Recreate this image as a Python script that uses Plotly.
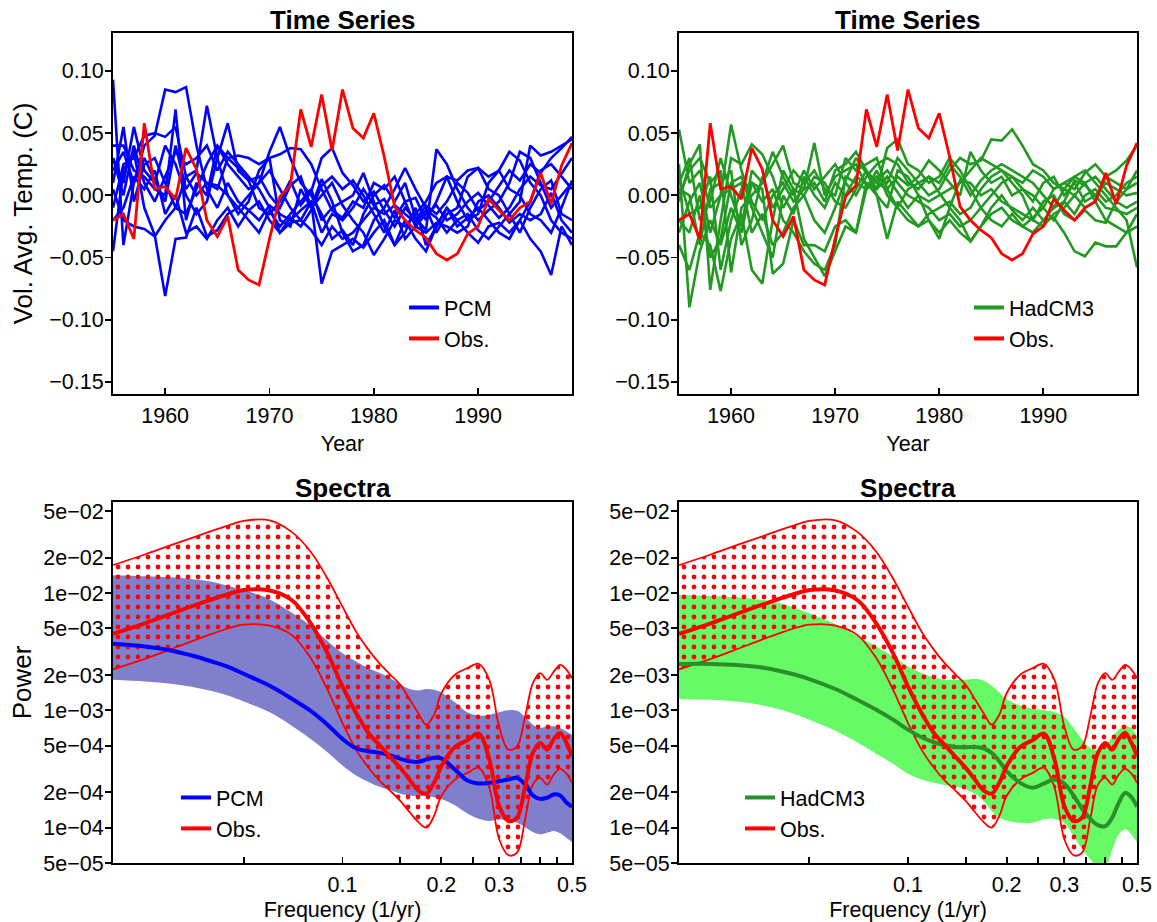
import math
import plotly.graph_objects as go

# ---------------- data ----------------
YEARS = list(range(1955, 2000))

OBS_TS = [-0.020, -0.015, -0.035, 0.058, 0.005, 0.007, -0.003, 0.038, 0.021, -0.020,
          -0.033, -0.017, -0.060, -0.068, -0.072, -0.035, -0.001, 0.008, 0.069, 0.039,
          0.081, 0.036, 0.085, 0.054, 0.046, 0.066, 0.031, -0.009, -0.020, -0.028,
          -0.034, -0.047, -0.052, -0.047, -0.031, -0.025, -0.003, -0.012, -0.020, -0.010,
          -0.005, 0.018, -0.007, 0.024, 0.042]

PCM_RUNS = [
    [0.093, -0.040, 0.010, 0.030, 0.012, -0.005, 0.040, 0.005, 0.018, 0.010,
     0.005, 0.030, 0.022, 0.012, -0.010, -0.015, -0.005, 0.012, -0.008, 0.003,
     0.030, 0.038, 0.018, 0.008, -0.005, 0.003, -0.012, -0.025, -0.010, -0.020,
     -0.008, -0.015, -0.005, 0.010, 0.002, -0.012, -0.005, 0.008, 0.020, 0.012,
     0.025, 0.018, 0.030, 0.038, 0.047],
    [0.020, 0.035, 0.010, 0.040, 0.048, 0.085, 0.083, 0.087, 0.040, 0.005,
     -0.010, 0.010, -0.005, -0.012, -0.020, -0.008, -0.015, -0.020, -0.012, -0.005,
     -0.030, -0.015, -0.020, -0.010, 0.005, -0.008, -0.003, -0.018, -0.005, -0.025,
     -0.015, -0.008, -0.020, -0.015, -0.005, 0.002, -0.008, -0.018, -0.010, 0.005,
     0.015, 0.008, 0.005, 0.018, 0.030],
    [-0.045, 0.020, 0.035, -0.010, -0.032, -0.081, -0.035, -0.034, -0.010, -0.033,
     -0.028, -0.015, -0.010, 0.000, 0.010, 0.020, 0.005, -0.010, -0.020, -0.005,
     -0.071, -0.045, -0.040, -0.035, -0.042, -0.030, -0.020, -0.040, -0.030, -0.010,
     -0.040, -0.025, -0.010, -0.020, -0.030, -0.038, -0.025, -0.022, -0.030, -0.020,
     -0.035, -0.045, -0.064, -0.025, -0.040],
    [0.040, 0.040, 0.020, 0.015, 0.005, 0.000, 0.069, -0.020, 0.010, 0.000,
     0.040, 0.025, 0.015, 0.005, 0.010, 0.035, 0.055, 0.030, 0.010, 0.000,
     -0.015, -0.035, -0.028, -0.040, -0.015, 0.000, 0.008, -0.005, 0.010, -0.018,
     -0.028, 0.037, 0.025, 0.005, -0.010, -0.020, -0.012, -0.005, 0.010, 0.035,
     0.030, 0.010, -0.010, 0.000, 0.010],
    [0.010, 0.055, -0.005, 0.025, 0.030, 0.010, -0.010, 0.015, 0.020, 0.072,
     0.030, 0.000, -0.015, -0.005, 0.020, 0.030, -0.020, -0.025, 0.005, -0.010,
     0.013, -0.005, -0.030, -0.045, -0.040, -0.020, -0.010, 0.005, 0.022, 0.005,
     -0.010, -0.030, -0.015, -0.010, 0.015, 0.022, 0.005, 0.000, -0.015, -0.030,
     -0.010, 0.005, 0.012, -0.015, -0.020],
    [0.030, 0.010, 0.055, 0.020, 0.010, 0.040, 0.025, 0.000, -0.015, -0.005,
     0.030, 0.058, 0.020, 0.012, 0.015, 0.000, -0.010, 0.008, 0.015, -0.010,
     0.000, 0.010, -0.008, -0.020, -0.030, -0.048, -0.035, -0.020, -0.025, -0.015,
     -0.005, 0.010, 0.015, -0.005, -0.020, -0.015, 0.010, 0.020, 0.035, 0.028,
     0.010, 0.000, -0.020, -0.030, -0.035],
    [-0.010, 0.025, 0.030, 0.048, 0.050, 0.047, 0.055, 0.015, 0.000, 0.010,
     0.008, 0.000, -0.010, -0.020, -0.030, -0.012, -0.025, -0.015, -0.005, 0.005,
     -0.020, -0.010, -0.005, 0.000, 0.018, -0.005, -0.025, -0.040, -0.020, -0.035,
     -0.045, -0.025, -0.010, -0.025, -0.018, -0.010, -0.020, -0.030, -0.035, -0.020,
     -0.005, 0.020, 0.025, 0.015, 0.005],
    [0.005, -0.020, -0.025, -0.027, -0.033, -0.020, -0.010, -0.015, 0.005, 0.025,
     0.040, 0.030, 0.032, 0.030, 0.025, 0.030, 0.033, 0.038, 0.037, 0.025,
     0.005, -0.012, -0.018, -0.005, -0.010, 0.010, 0.005, 0.015, -0.005, -0.002,
     -0.020, -0.005, 0.015, 0.012, 0.020, 0.022, 0.015, 0.020, 0.005, 0.000,
     -0.015, -0.020, -0.030, -0.010, 0.012],
    [0.030, 0.000, 0.040, 0.010, -0.005, 0.015, 0.035, 0.025, 0.030, 0.040,
     0.020, 0.035, 0.025, 0.015, 0.005, -0.010, -0.030, -0.022, -0.020, -0.028,
     -0.040, -0.025, -0.035, -0.030, -0.020, -0.010, -0.015, -0.008, -0.015, -0.022,
     -0.012, -0.018, -0.030, -0.020, -0.015, -0.028, -0.035, -0.025, -0.015, -0.005,
     0.040, 0.032, 0.035, 0.040, 0.045],
    [-0.020, -0.010, 0.015, 0.005, 0.020, -0.015, 0.000, -0.030, -0.025, -0.035,
     -0.020, -0.010, -0.025, -0.012, -0.005, -0.020, -0.030, -0.018, -0.025, -0.012,
     0.008, 0.015, 0.005, 0.012, 0.000, -0.015, -0.030, -0.012, -0.035, -0.025,
     -0.030, -0.022, -0.025, -0.030, -0.025, -0.005, 0.000, -0.010, -0.022, -0.015,
     -0.020, -0.015, 0.002, -0.020, -0.030],
]

HAD_RUNS = [
    [0.053, 0.010, 0.020, -0.010, 0.000, 0.057, 0.020, -0.005, -0.020, 0.000,
     0.010, -0.005, 0.005, 0.042, 0.000, 0.015, 0.020, 0.025, 0.008, 0.015,
     0.010, 0.030, 0.020, 0.010, 0.000, 0.005, 0.020, 0.030, 0.025, 0.028,
     0.045, 0.044, 0.053, 0.040, 0.025, 0.020, 0.010, 0.005, 0.015, 0.020,
     0.010, 0.000, -0.010, -0.020, -0.058],
    [0.025, -0.090, -0.045, -0.020, -0.040, -0.010, -0.030, 0.010, 0.005, -0.063,
     -0.055, -0.020, -0.040, -0.040, -0.045, -0.025, -0.020, -0.030, 0.010, 0.000,
     -0.035, -0.005, -0.015, -0.025, -0.020, -0.035, -0.010, -0.020, -0.037, -0.025,
     -0.010, 0.000, -0.012, -0.020, -0.010, -0.020, -0.018, -0.030, -0.045, -0.049,
     -0.038, -0.041, -0.041, -0.030, -0.015],
    [-0.005, 0.025, 0.041, -0.076, -0.020, 0.030, 0.025, 0.041, 0.033, 0.015,
     -0.010, 0.005, 0.000, -0.020, -0.030, -0.010, 0.012, 0.030, 0.018, 0.005,
     0.038, 0.045, 0.025, 0.020, 0.010, 0.015, 0.030, 0.020, 0.005, -0.010,
     -0.020, -0.025, -0.015, -0.025, -0.018, -0.010, 0.005, 0.010, 0.005, 0.018,
     0.025, 0.015, 0.020, 0.028, 0.040],
    [-0.040, -0.060, -0.030, -0.040, -0.077, -0.035, -0.015, -0.060, -0.071, -0.020,
     0.020, 0.005, -0.035, -0.050, -0.065, -0.045, -0.025, -0.030, 0.005, 0.020,
     0.000, -0.010, -0.020, -0.025, -0.015, -0.010, -0.005, -0.015, -0.010, 0.005,
     0.015, 0.020, 0.010, 0.000, -0.020, -0.025, -0.015, -0.010, 0.000, -0.010,
     -0.005, 0.015, 0.010, 0.005, 0.010],
    [0.000, 0.020, 0.030, 0.010, 0.020, -0.062, -0.010, 0.000, 0.010, 0.025,
     0.040, 0.010, 0.005, 0.010, -0.005, 0.020, 0.025, 0.035, 0.020, 0.010,
     0.005, 0.015, 0.008, 0.015, 0.028, 0.020, 0.010, 0.000, 0.035, 0.020,
     0.010, 0.015, 0.000, 0.005, -0.005, 0.010, 0.015, 0.000, 0.010, -0.005,
     0.000, 0.010, 0.005, 0.000, 0.002],
    [-0.020, -0.030, 0.000, -0.050, -0.035, 0.010, 0.015, -0.010, -0.030, -0.050,
     0.000, -0.015, 0.015, 0.000, -0.010, 0.010, 0.000, 0.015, 0.010, 0.005,
     0.015, 0.002, -0.010, 0.000, -0.005, 0.000, 0.005, 0.010, 0.020, 0.030,
     0.025, 0.020, 0.015, 0.005, 0.000, -0.010, -0.020, -0.005, 0.012, 0.008,
     0.000, -0.010, -0.012, -0.015, -0.010],
    [0.015, -0.015, -0.010, 0.015, -0.060, -0.020, 0.005, 0.010, -0.005, 0.005,
     -0.020, -0.030, -0.045, -0.055, -0.060, -0.040, 0.015, 0.010, 0.005, 0.012,
     0.020, 0.010, 0.000, -0.005, -0.010, -0.020, -0.015, -0.025, -0.020, -0.010,
     0.000, 0.010, 0.015, 0.010, 0.020, 0.015, 0.005, 0.010, 0.015, 0.010,
     -0.005, -0.020, -0.025, -0.030, -0.025],
    [0.005, 0.000, -0.040, 0.005, 0.010, 0.020, -0.040, -0.020, 0.015, -0.010,
     0.005, 0.020, 0.010, 0.020, 0.005, 0.000, 0.030, 0.020, 0.025, 0.030,
     0.005, -0.010, 0.005, 0.010, 0.015, 0.002, -0.010, 0.012, 0.010, 0.000,
     0.005, -0.005, -0.010, -0.015, -0.020, -0.005, 0.000, -0.015, -0.020, -0.012,
     -0.020, -0.022, -0.005, 0.005, 0.020],
    [-0.030, -0.005, 0.010, -0.030, 0.000, 0.005, 0.010, -0.030, -0.015, -0.040,
     -0.030, -0.010, 0.000, 0.015, 0.010, -0.005, -0.010, 0.005, 0.020, 0.000,
     -0.010, 0.020, 0.015, 0.000, -0.020, -0.030, -0.020, -0.030, -0.037, -0.025,
     -0.015, -0.010, -0.020, -0.025, -0.030, -0.020, -0.010, -0.005, -0.015, 0.000,
     0.005, -0.005, 0.000, 0.010, 0.015],
    [0.010, 0.030, -0.020, -0.005, 0.030, 0.000, -0.025, 0.020, 0.010, 0.035,
     0.015, 0.000, 0.020, 0.005, 0.015, 0.025, 0.010, 0.000, 0.015, 0.025,
     0.030, 0.025, 0.010, 0.005, 0.015, 0.010, 0.025, 0.015, 0.000, 0.012,
     0.020, 0.025, 0.020, 0.015, 0.010, 0.000, -0.010, 0.005, 0.000, 0.010,
     0.015, 0.005, -0.005, -0.010, -0.005],
]

FREQ = [0.02, 0.025, 0.03, 0.035, 0.04, 0.045, 0.05, 0.06, 0.07, 0.08,
        0.09, 0.10, 0.11, 0.12, 0.13, 0.14, 0.15, 0.16, 0.17, 0.18,
        0.19, 0.20, 0.22, 0.24, 0.26, 0.28, 0.30, 0.32, 0.34, 0.36,
        0.38, 0.40, 0.42, 0.44, 0.46, 0.48, 0.50]

OBS_SPEC_HI = [0.0173, 0.0213, 0.0256, 0.0297, 0.0339, 0.0378, 0.0412, 0.0417, 0.0332, 0.0225,
               0.0133, 0.00765, 0.00469, 0.00328, 0.00249, 0.00201, 0.00165, 0.00125, 0.00095, 0.000755,
               0.000919, 0.00140, 0.00201, 0.00229, 0.00249, 0.00182, 0.000731, 0.000463, 0.000494, 0.000889,
               0.00171, 0.00208, 0.00182, 0.00214, 0.00244, 0.00224, 0.00188]
OBS_SPEC_MID = [0.00448, 0.00552, 0.00663, 0.00776, 0.00883, 0.00981, 0.0106, 0.0105, 0.00872, 0.00552,
                0.00307, 0.00160, 0.00095, 0.000642, 0.000501, 0.000399, 0.000324, 0.000257, 0.000208, 0.000195,
                0.000241, 0.000334, 0.000488, 0.000556, 0.000634, 0.000381, 0.000153, 0.000114, 0.000122, 0.000226,
                0.000434, 0.000528, 0.000463, 0.000571, 0.000642, 0.000535, 0.000407]
OBS_SPEC_LO = [0.00224, 0.00275, 0.00332, 0.00391, 0.00448, 0.00501, 0.00538, 0.00528, 0.00440, 0.00279,
               0.00150, 0.000780, 0.000463, 0.000324, 0.000249, 0.000205, 0.000169, 0.000136, 0.000112, 0.000100,
               0.000126, 0.000186, 0.000257, 0.000293, 0.000324, 0.000219, 0.0000796, 0.0000582, 0.0000613, 0.000118,
               0.000233, 0.000266, 0.000233, 0.000284, 0.000317, 0.000290, 0.000241]

PCM_SPEC_HI = [0.0142, 0.0139, 0.0136, 0.0131, 0.0125, 0.0115, 0.0106, 0.00883, 0.00681, 0.00524,
               0.00391, 0.00307, 0.00261, 0.00229, 0.00208, 0.00188, 0.00167, 0.00152, 0.00148, 0.00152,
               0.00150, 0.00142, 0.00117, 0.000962, 0.000901, 0.000919, 0.000962, 0.00100, 0.000993, 0.000878,
               0.000755, 0.000708, 0.000731, 0.000731, 0.000708, 0.000663, 0.000621]
PCM_SPEC_MID = [0.00369, 0.00350, 0.00324, 0.00292, 0.00261, 0.00234, 0.00205, 0.00162, 0.00126, 0.00099,
                0.000755, 0.000571, 0.000475, 0.000448, 0.000434, 0.000412, 0.000386, 0.000369, 0.000364, 0.000381,
                0.000394, 0.000389, 0.000313, 0.000252, 0.000238, 0.000241, 0.000249, 0.000257, 0.000266, 0.000233,
                0.000188, 0.000176, 0.000180, 0.000192, 0.000188, 0.000165, 0.000151]
PCM_SPEC_LO = [0.00182, 0.00176, 0.00169, 0.00158, 0.00146, 0.00133, 0.00119, 0.000962, 0.000741, 0.000571,
               0.000440, 0.000339, 0.000279, 0.000245, 0.000222, 0.000208, 0.000195, 0.000188, 0.000186, 0.000186,
               0.000182, 0.000176, 0.000155, 0.000132, 0.000119, 0.000114, 0.000118, 0.000114, 0.000110, 0.000101,
               0.0000919, 0.0000878, 0.0000907, 0.0000937, 0.0000895, 0.0000822, 0.0000755]

HAD_SPEC_HI = [0.00962, 0.00943, 0.00919, 0.00883, 0.00828, 0.00750, 0.00671, 0.00542, 0.00431, 0.00350,
               0.00288, 0.00237, 0.00208, 0.00191, 0.00182, 0.00182, 0.00182, 0.00185, 0.00180, 0.00162,
               0.00142, 0.00125, 0.00110, 0.00103, 0.00100, 0.000962, 0.000878, 0.000708, 0.000563, 0.000479,
               0.000457, 0.000501, 0.000593, 0.000685, 0.000731, 0.000708, 0.000601]
HAD_SPEC_MID = [0.00249, 0.00249, 0.00244, 0.00234, 0.00219, 0.00202, 0.00185, 0.00152, 0.00123, 0.00101,
                0.000833, 0.000685, 0.000590, 0.000535, 0.000504, 0.000488, 0.000485, 0.000488, 0.000475, 0.000434,
                0.000369, 0.000303, 0.000241, 0.000219, 0.000238, 0.000257, 0.000238, 0.000188, 0.000145, 0.000119,
                0.000105, 0.000103, 0.000122, 0.000163, 0.000198, 0.000183, 0.000151]
HAD_SPEC_LO = [0.00125, 0.00123, 0.00119, 0.00112, 0.00103, 0.000931, 0.000833, 0.000671, 0.000535, 0.000426,
               0.000350, 0.000288, 0.000257, 0.000241, 0.000230, 0.000224, 0.000212, 0.000195, 0.000169, 0.000139,
               0.000122, 0.000115, 0.000110, 0.000110, 0.000118, 0.000119, 0.000109, 0.0000850, 0.0000655, 0.0000538,
               0.0000457, 0.0000464, 0.0000646, 0.0000878, 0.0000968, 0.0000878, 0.0000746]

TS_YTICKS = [-0.15, -0.10, -0.05, 0.00, 0.05, 0.10]
TS_XTICKS = [1960, 1970, 1980, 1990]
SP_YTICKS = [5e-2, 2e-2, 1e-2, 5e-3, 2e-3, 1e-3, 5e-4, 2e-4, 1e-4, 5e-5]
SP_YLABELS = ["5e\u221202", "2e\u221202", "1e\u221202", "5e\u221203", "2e\u221203",
              "1e\u221203", "5e\u221204", "2e\u221204", "1e\u221204", "5e\u221205"]
SP_XTICKS = [0.05, 0.1, 0.15, 0.2, 0.25, 0.3, 0.35, 0.4, 0.45, 0.5]
SP_XLABELS = ["", "0.1", "", "0.2", "", "0.3", "", "", "", "0.5"]

# ---------------- style ----------------
W, H = 1157, 922
FONT = "Liberation Sans, Arial, Helvetica, sans-serif"
FS = 21.5
FS_YTITLE = 26
BLUE = "#0000FF"
RED = "#FF0000"
GREEN_TS = "#229A22"
GREEN_LINE = "#2A8F2A"
BLUE_BAND = "#7F7FCC"
GREEN_BAND = "#66FA66"


def fx(p):
    return p / W


def fy(p):
    return 1 - p / H


XL = [fx(113), fx(572)]
XR = [fx(679), fx(1137)]
YT = [fy(394), fy(33)]
YB = [fy(863), fy(502)]

fig = go.Figure()

# ---- top-left: PCM time series
for run in PCM_RUNS:
    fig.add_trace(go.Scatter(x=YEARS, y=run, mode="lines", line=dict(color=BLUE, width=2.6),
                             showlegend=False, xaxis="x", yaxis="y", hoverinfo="skip"))
fig.add_trace(go.Scatter(x=YEARS, y=OBS_TS, mode="lines", line=dict(color=RED, width=2.8),
                         showlegend=False, xaxis="x", yaxis="y"))
fig.add_trace(go.Scatter(x=[None], y=[None], mode="lines", line=dict(color=BLUE, width=4),
                         name="PCM", legend="legend", xaxis="x", yaxis="y"))
fig.add_trace(go.Scatter(x=[None], y=[None], mode="lines", line=dict(color=RED, width=4),
                         name="Obs.", legend="legend", xaxis="x", yaxis="y"))

# ---- top-right: HadCM3 time series
for run in HAD_RUNS:
    fig.add_trace(go.Scatter(x=YEARS, y=run, mode="lines", line=dict(color=GREEN_TS, width=2.6),
                             showlegend=False, xaxis="x2", yaxis="y2", hoverinfo="skip"))
fig.add_trace(go.Scatter(x=YEARS, y=OBS_TS, mode="lines", line=dict(color=RED, width=2.8),
                         showlegend=False, xaxis="x2", yaxis="y2"))
fig.add_trace(go.Scatter(x=[None], y=[None], mode="lines", line=dict(color=GREEN_TS, width=4),
                         name="HadCM3", legend="legend2", xaxis="x2", yaxis="y2"))
fig.add_trace(go.Scatter(x=[None], y=[None], mode="lines", line=dict(color=RED, width=4),
                         name="Obs.", legend="legend2", xaxis="x2", yaxis="y2"))

PATTERN = dict(shape=".", fgcolor=RED, fgopacity=1, bgcolor="rgba(255,255,255,0)",
               size=10, solidity=0.18, fillmode="overlay")


def spectra(xa, ya, lo, mid, hi, band_col, line_col, name, leg):
    fig.add_trace(go.Scatter(x=FREQ, y=lo, mode="lines", line=dict(width=0, shape="spline", color=band_col),
                             showlegend=False, xaxis=xa, yaxis=ya, hoverinfo="skip"))
    fig.add_trace(go.Scatter(x=FREQ, y=hi, mode="lines", line=dict(width=0, shape="spline", color=band_col),
                             fill="tonexty", fillcolor=band_col, showlegend=False,
                             xaxis=xa, yaxis=ya, hoverinfo="skip"))
    fig.add_trace(go.Scatter(x=FREQ, y=OBS_SPEC_LO, mode="lines",
                             line=dict(width=1.8, shape="spline", color=RED),
                             showlegend=False, xaxis=xa, yaxis=ya))
    fig.add_trace(go.Scatter(x=FREQ, y=OBS_SPEC_HI, mode="lines",
                             line=dict(width=1.8, shape="spline", color=RED),
                             fill="tonexty", fillcolor="rgba(255,0,0,0)", fillpattern=PATTERN,
                             showlegend=False, xaxis=xa, yaxis=ya))
    fig.add_trace(go.Scatter(x=FREQ, y=mid, mode="lines", line=dict(width=4, shape="spline", color=line_col),
                             name=name, legend=leg, xaxis=xa, yaxis=ya))
    fig.add_trace(go.Scatter(x=FREQ, y=OBS_SPEC_MID, mode="lines",
                             line=dict(width=4, shape="spline", color=RED),
                             name="Obs.", legend=leg, xaxis=xa, yaxis=ya))


spectra("x3", "y3", PCM_SPEC_LO, PCM_SPEC_MID, PCM_SPEC_HI, BLUE_BAND, BLUE, "PCM", "legend3")
spectra("x4", "y4", HAD_SPEC_LO, HAD_SPEC_MID, HAD_SPEC_HI, GREEN_BAND, GREEN_LINE, "HadCM3", "legend4")

# ---------------- axes ----------------
common = dict(showline=True, linecolor="black", linewidth=2, mirror=True, showgrid=False,
              zeroline=False, tickcolor="black", tickwidth=1.8, ticklen=6,
              tickfont=dict(family=FONT, size=FS, color="black"), automargin=False)

ts_x = dict(common, range=[1955, 1999], tickvals=TS_XTICKS, ticks="inside", ticklabelstandoff=1,
            title=dict(text="Year", font=dict(family=FONT, size=FS, color="black"), standoff=9))
ts_y = dict(common, range=[-0.1597, 0.1305], tickvals=TS_YTICKS, tickformat=".2f", ticks="outside",
            ticklabelstandoff=-3)

sp_x = dict(common, type="log", range=[math.log10(0.02), math.log10(0.5)], tickvals=SP_XTICKS,
            ticktext=SP_XLABELS, ticks="inside", ticklabelstandoff=1,
            title=dict(text="Frequency (1/yr)", font=dict(family=FONT, size=FS, color="black"), standoff=9))
sp_y = dict(common, type="log", range=[math.log10(5e-5), -1.224], tickvals=SP_YTICKS,
            ticktext=SP_YLABELS, ticks="outside", ticklabelstandoff=-3)

fig.update_layout(
    xaxis=dict(ts_x, domain=XL, anchor="y"),
    yaxis=dict(ts_y, domain=YT, anchor="x",
               title=dict(text="Vol. Avg. Temp. (C)", font=dict(family=FONT, size=FS_YTITLE, color="black"),
                          standoff=9)),
    xaxis2=dict(ts_x, domain=XR, anchor="y2"),
    yaxis2=dict(ts_y, domain=YT, anchor="x2"),
    xaxis3=dict(sp_x, domain=XL, anchor="y3"),
    yaxis3=dict(sp_y, domain=YB, anchor="x3",
                title=dict(text="Power", font=dict(family=FONT, size=FS_YTITLE, color="black"), standoff=4)),
    xaxis4=dict(sp_x, domain=XR, anchor="y4"),
    yaxis4=dict(sp_y, domain=YB, anchor="x4"),
)

leg_common = dict(bgcolor="rgba(0,0,0,0)", borderwidth=0, xanchor="left", yanchor="top",
                  traceorder="normal", font=dict(family=FONT, size=FS, color="black"), tracegroupgap=0)
fig.update_layout(
    legend=dict(leg_common, x=fx(404), y=fy(287)),
    legend2=dict(leg_common, x=fx(969), y=fy(287)),
    legend3=dict(leg_common, x=fx(176), y=fy(777)),
    legend4=dict(leg_common, x=fx(740), y=fy(777)),
)

title_font = dict(family=FONT, size=26, color="black", weight="bold")
ann = []
for (xd, yc, txt) in [(XL, 20, "Time Series"), (XR, 20, "Time Series"),
                      (XL, 488, "Spectra"), (XR, 488, "Spectra")]:
    ann.append(dict(text="<b>%s</b>" % txt, x=(xd[0] + xd[1]) / 2, y=fy(yc), xref="paper", yref="paper",
                    xanchor="center", yanchor="middle", showarrow=False, font=title_font))

fig.update_layout(
    width=W, height=H, margin=dict(l=0, r=0, t=0, b=0),
    paper_bgcolor="white", plot_bgcolor="white",
    font=dict(family=FONT, size=FS, color="black"),
    annotations=ann, hovermode=False,
)

fig.write_html("out.html", config={"displayModeBar": False, "staticPlot": True},
               post_script="document.body.style.margin='0';")
